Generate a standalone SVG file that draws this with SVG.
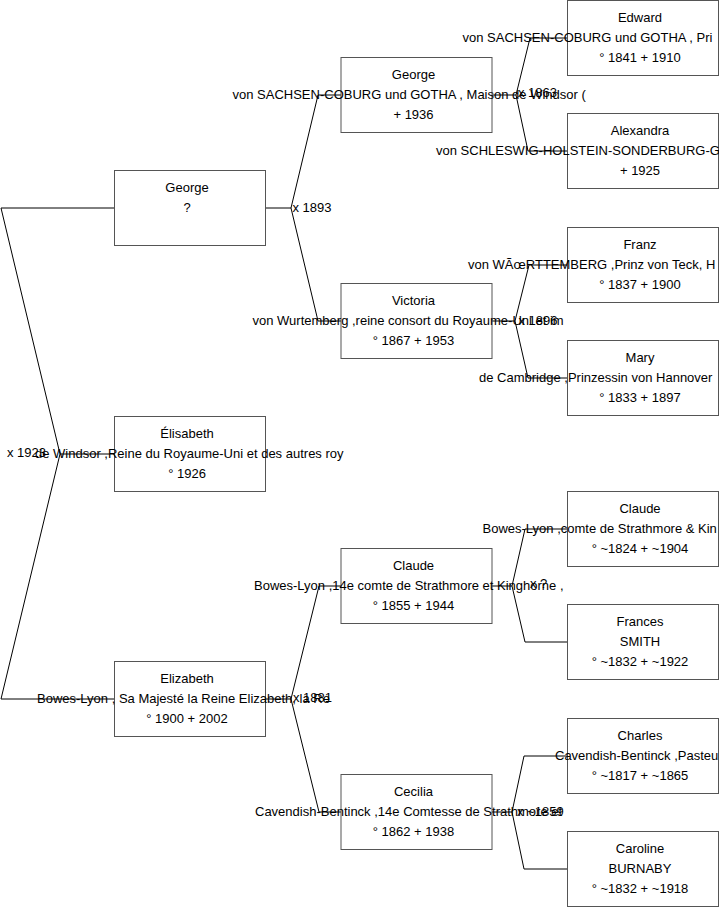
<svg xmlns="http://www.w3.org/2000/svg" width="719" height="908" viewBox="0 0 719 908">
<style>
.box{fill:#fff;stroke:#555;stroke-width:1}
.t{font-family:"Liberation Sans",Arial,sans-serif;font-size:13px;fill:#000}
.c{text-anchor:middle}
.con{fill:none;stroke:#000;stroke-width:1}
</style>
<rect width="719" height="908" fill="#fff"/>
<g id="connectors" class="con">
<path d="M114.5,454 H60 L1,208 H114.5 M60,454 L1,699 H114.5"/>
<path d="M265.5,208 H291 L318,95 H341 M291,208 L318,321 H341"/>
<path d="M265.5,699 H291 L319,586 H341 M291,699 L319,812 H341"/>
<path d="M491.5,95 H516 L530,38 H567.5 M516,95 L528,151 H567.5"/>
<path d="M491.5,321 H515 L529,265 H567.5 M515,321 L528,378 H567.5"/>
<path d="M491.5,586 H512 L525,529 H567.5 M512,586 L525,642 H567.5"/>
<path d="M491.5,812 H512 L524,756 H567.5 M512,812 L524,869 H567.5"/>
</g>
<g id="n_george1">
<rect class="box" x="114.5" y="170.5" width="151" height="75"/>
<text class="t c" x="187" y="191.5">George</text>
<text class="t c" x="187" y="211.5">?</text>
</g>
<g id="n_elisabeth">
<rect class="box" x="114.5" y="416.5" width="151" height="75"/>
<text class="t c" x="187" y="437.5">Élisabeth</text>
<text class="t" x="35" y="457.5">de Windsor ,Reine du Royaume-Uni et des autres roy</text>
<text class="t c" x="187" y="477.5">° 1926</text>
</g>
<g id="n_elizabeth">
<rect class="box" x="114.5" y="661.5" width="151" height="75"/>
<text class="t c" x="187" y="682.5">Elizabeth</text>
<text class="t" x="37" y="702.5">Bowes-Lyon , Sa Majesté la Reine Elizabeth, la Re</text>
<text class="t c" x="187" y="722.5">° 1900 + 2002</text>
</g>
<g id="n_george2">
<rect class="box" x="341" y="57.5" width="151" height="75"/>
<text class="t c" x="413.5" y="78.5">George</text>
<text class="t" x="232.5" y="98.5">von SACHSEN-COBURG und GOTHA , Maison de Windsor (</text>
<text class="t c" x="413.5" y="118.5">+ 1936</text>
</g>
<g id="n_victoria">
<rect class="box" x="341" y="283.5" width="151" height="75"/>
<text class="t c" x="413.5" y="304.5">Victoria</text>
<text class="t" x="252.5" y="324.5">von Wurtemberg ,reine consort du Royaume-Uni et im</text>
<text class="t c" x="413.5" y="344.5">° 1867 + 1953</text>
</g>
<g id="n_claude2">
<rect class="box" x="341" y="548.5" width="151" height="75"/>
<text class="t c" x="413.5" y="569.5">Claude</text>
<text class="t" x="254" y="589.5">Bowes-Lyon ,14e comte de Strathmore et Kinghorne ,</text>
<text class="t c" x="413.5" y="609.5">° 1855 + 1944</text>
</g>
<g id="n_cecilia">
<rect class="box" x="341" y="774.5" width="151" height="75"/>
<text class="t c" x="413.5" y="795.5">Cecilia</text>
<text class="t" x="255" y="815.5">Cavendish-Bentinck ,14e Comtesse de Strathmore et</text>
<text class="t c" x="413.5" y="835.5">° 1862 + 1938</text>
</g>
<g id="n_edward">
<rect class="box" x="567.5" y="0.5" width="151" height="75"/>
<text class="t c" x="640" y="21.5">Edward</text>
<text class="t" x="462.5" y="41.5">von SACHSEN-COBURG und GOTHA , Pri</text>
<text class="t c" x="640" y="61.5">° 1841 + 1910</text>
</g>
<g id="n_alexandra">
<rect class="box" x="567.5" y="113.5" width="151" height="75"/>
<text class="t c" x="640" y="134.5">Alexandra</text>
<text class="t" x="436" y="154.5">von SCHLESWIG-HOLSTEIN-SONDERBURG-G</text>
<text class="t c" x="640" y="174.5">+ 1925</text>
</g>
<g id="n_franz">
<rect class="box" x="567.5" y="227.5" width="151" height="75"/>
<text class="t c" x="640" y="248.5">Franz</text>
<text class="t" x="468" y="268.5">von WÃœRTTEMBERG ,Prinz von Teck, H</text>
<text class="t c" x="640" y="288.5">° 1837 + 1900</text>
</g>
<g id="n_mary">
<rect class="box" x="567.5" y="340.5" width="151" height="75"/>
<text class="t c" x="640" y="361.5">Mary</text>
<text class="t" x="479" y="381.5">de Cambridge ,Prinzessin von Hannover</text>
<text class="t c" x="640" y="401.5">° 1833 + 1897</text>
</g>
<g id="n_claude3">
<rect class="box" x="567.5" y="491.5" width="151" height="75"/>
<text class="t c" x="640" y="512.5">Claude</text>
<text class="t" x="482.5" y="532.5">Bowes-Lyon ,comte de Strathmore &amp; Kin</text>
<text class="t c" x="640" y="552.5">° ~1824 + ~1904</text>
</g>
<g id="n_frances">
<rect class="box" x="567.5" y="604.5" width="151" height="75"/>
<text class="t c" x="640" y="625.5">Frances</text>
<text class="t c" x="640" y="645.5">SMITH</text>
<text class="t c" x="640" y="665.5">° ~1832 + ~1922</text>
</g>
<g id="n_charles">
<rect class="box" x="567.5" y="718.5" width="151" height="75"/>
<text class="t c" x="640" y="739.5">Charles</text>
<text class="t" x="555" y="759.5">Cavendish-Bentinck ,Pasteu</text>
<text class="t c" x="640" y="779.5">° ~1817 + ~1865</text>
</g>
<g id="n_caroline">
<rect class="box" x="567.5" y="831.5" width="151" height="75"/>
<text class="t c" x="640" y="852.5">Caroline</text>
<text class="t c" x="640" y="872.5">BURNABY</text>
<text class="t c" x="640" y="892.5">° ~1832 + ~1918</text>
</g>
<g id="labels">
<text class="t" x="7" y="457">x 1923</text>
<text class="t" x="292.5" y="212">x 1893</text>
<text class="t" x="293" y="702">x 1881</text>
<text class="t" x="518" y="96.5">x 1863</text>
<text class="t" x="518.5" y="325">x 1896</text>
<text class="t" x="530" y="588">x ?</text>
<text class="t" x="517" y="816">x ~1859</text>
</g>
</svg>
